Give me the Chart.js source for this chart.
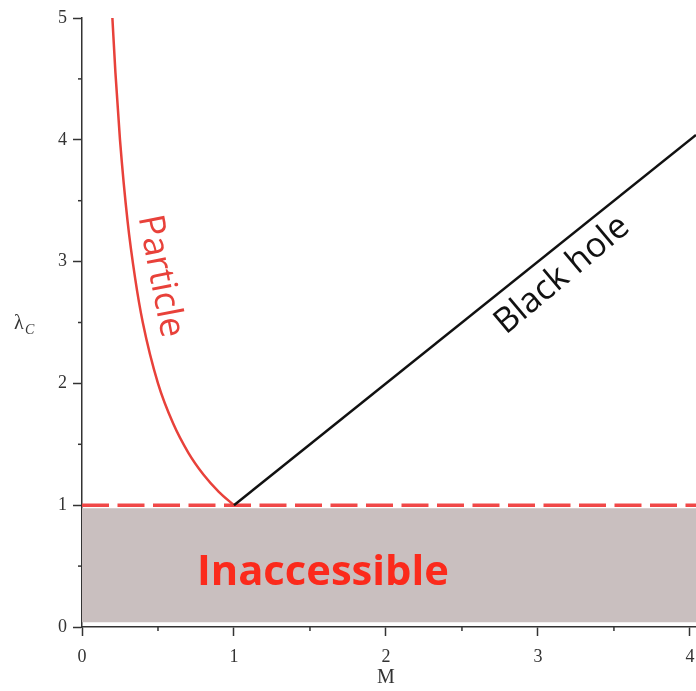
<!DOCTYPE html>
<html><head><meta charset="utf-8">
<script src="https://cdn.jsdelivr.net/npm/chart.js@4/dist/chart.umd.min.js"></script>
<style>html,body{margin:0;padding:0;background:#fff}#wrap{width:696px;height:691px}</style>
</head><body><div id="wrap"><canvas id="c" width="696" height="691"></canvas></div>
<script>
// Data
const particleM      = [0.2, 0.22, 0.25, 0.3, 0.35, 0.4, 0.5, 0.6, 0.7, 0.8, 0.9, 1.0];
const particleLambda = [5.0, 4.55, 4.0, 3.33, 2.86, 2.5, 2.0, 1.67, 1.43, 1.25, 1.11, 1.0];
const blackHoleM      = [1.0, 4.04];
const blackHoleLambda = [1.0, 4.04];
const limitM      = [0, 4.04];
const limitLambda = [1.0, 1.0];
const shadeM      = [0, 4.04];
const shadeTop    = [0.975, 0.975];
const shadeBottom = 0.04;
const xTicks = [0, 1, 2, 3, 4];
const yTicks = [0, 1, 2, 3, 4, 5];
const xMinor = [0.5, 1.5, 2.5, 3.5];
const yMinor = [0.5, 1.5, 2.5, 3.5, 4.5];

const pts = (xs, ys) => xs.map((x, i) => ({x, y: Array.isArray(ys) ? ys[i] : ys}));

function fitFont(ctx, text, style, family, target) {
  ctx.font = style + ' 40px ' + family;
  const w = ctx.measureText(text).width;
  const size = 40 * target / w;
  ctx.font = style + ' ' + size.toFixed(2) + 'px ' + family;
}

const annot = {
  id: 'annot',
  afterDraw(chart) {
    const {ctx, scales: {x, y}} = chart;
    const fam = '"Open Sans", Lato, sans-serif';
    ctx.save();
    // minor ticks
    ctx.strokeStyle = '#333'; ctx.lineWidth = 1.5;
    xMinor.forEach(v => { const px = x.getPixelForValue(v); ctx.beginPath(); ctx.moveTo(px, y.bottom); ctx.lineTo(px, y.bottom + 4); ctx.stroke(); });
    yMinor.forEach(v => { const py = y.getPixelForValue(v); ctx.beginPath(); ctx.moveTo(x.left, py); ctx.lineTo(x.left - 4, py); ctx.stroke(); });
    // Particle label
    ctx.fillStyle = '#e8413a';
    fitFont(ctx, 'Particle', 'normal', fam, 124);
    ctx.textAlign = 'center'; ctx.textBaseline = 'middle';
    ctx.translate(x.getPixelForValue(0.515), y.getPixelForValue(2.88));
    ctx.rotate(79 * Math.PI / 180);
    ctx.fillText('Particle', 0, 0);
    ctx.restore(); ctx.save();
    // Black hole label
    ctx.fillStyle = '#111';
    fitFont(ctx, 'Black hole', 'normal', fam, 164);
    ctx.textAlign = 'center'; ctx.textBaseline = 'middle';
    ctx.translate(x.getPixelForValue(3.16), y.getPixelForValue(2.89));
    ctx.rotate(-40 * Math.PI / 180);
    ctx.fillText('Black hole', 0, 0);
    ctx.restore(); ctx.save();
    // Inaccessible
    ctx.fillStyle = '#fb2a1c';
    fitFont(ctx, 'Inaccessible', 'bold', fam, 252);
    ctx.textAlign = 'center'; ctx.textBaseline = 'middle';
    ctx.fillText('Inaccessible', x.getPixelForValue(1.585), y.getPixelForValue(0.443));
    // axis titles
    ctx.fillStyle = '#333';
    ctx.font = '20px "Liberation Serif", serif';
    ctx.textAlign = 'center'; ctx.textBaseline = 'middle';
    ctx.fillText('M', x.getPixelForValue(2), 678);
    ctx.textAlign = 'left';
    ctx.fillText('λ', 14, 324);
    ctx.font = 'italic 14px "Liberation Serif", serif';
    ctx.fillText('C', 25, 330);
    ctx.restore();
  }
};

new Chart(document.getElementById('c'), {
  type: 'scatter',
  data: {
    datasets: [
      { data: pts(shadeM, shadeTop), showLine: true, borderWidth: 0, pointRadius: 0,
        backgroundColor: '#c9bfbf', fill: {value: shadeBottom}, order: 5 },
      { data: pts(particleM, particleLambda), showLine: true, borderColor: '#e8413a', borderWidth: 2.5,
        pointRadius: 0, cubicInterpolationMode: 'monotone', fill: false, order: 2 },
      { data: pts(blackHoleM, blackHoleLambda), showLine: true, borderColor: '#111', borderWidth: 2.5,
        pointRadius: 0, fill: false, order: 1 },
      { data: pts(limitM, limitLambda), showLine: true, borderColor: '#f04848', borderWidth: 3.5,
        borderDash: [27, 8.5], pointRadius: 0, fill: false, order: 3 }
    ]
  },
  options: {
    responsive: false, animation: false,
    layout: { padding: { top: 18, right: 0, left: 0, bottom: 0 } },
    plugins: { legend: { display: false }, tooltip: { enabled: false } },
    scales: {
      x: {
        type: 'linear', min: 0, max: 4.04,
        afterBuildTicks: s => { s.ticks = xTicks.map(v => ({value: v})); },
        afterFit: s => { s.height = 64; s.paddingRight = 0; },
        grid: { drawOnChartArea: false, drawTicks: true, tickLength: 9, color: '#333', tickWidth: 1.5 },
        border: { color: '#333', width: 1.5 },
        ticks: { color: '#333', padding: 10, font: { family: 'Liberation Serif', size: 18 }, maxRotation: 0 }
      },
      y: {
        type: 'linear', min: 0, max: 5,
        afterBuildTicks: s => { s.ticks = yTicks.map(v => ({value: v})); },
        afterFit: s => { s.width = 82; },
        grid: { drawOnChartArea: false, drawTicks: true, tickLength: 9, color: '#333', tickWidth: 1.5 },
        border: { color: '#333', width: 1.5 },
        ticks: { color: '#333', padding: 6, font: { family: 'Liberation Serif', size: 18 } }
      }
    }
  },
  plugins: [annot]
});
</script>
</body></html>
